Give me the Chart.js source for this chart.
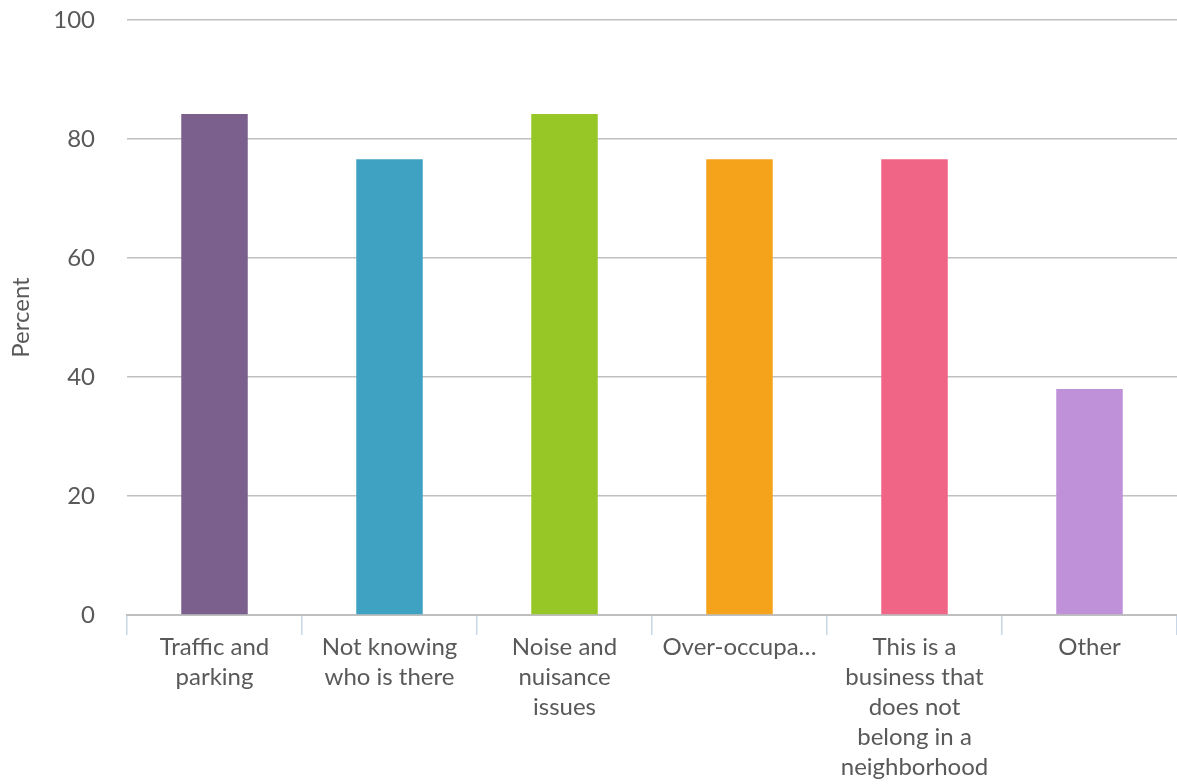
<!DOCTYPE html>
<html>
<head>
<meta charset="utf-8">
<script src="https://cdn.jsdelivr.net/npm/chart.js@4"></script>
<style>
  html, body { margin: 0; padding: 0; background: #fff; }
  #wrap { width: 1177px; height: 784px; position: relative; }
</style>
</head>
<body>
<div id="wrap"><canvas id="chart"></canvas></div>
<script>
const categories = [
    ['Traffic and', 'parking'],
    ['Not knowing', 'who is there'],
    ['Noise and', 'nuisance', 'issues'],
    ['Over-occupa…'],
    ['This is a', 'business that', 'does not', 'belong in a', 'neighborhood'],
    ['Other']
];
const percentValues = [84.2, 76.6, 84.2, 76.6, 76.6, 38.0];
const barColors = ['#7b608e', '#3fa2c2', '#96c726', '#f4a31b', '#f06586', '#bf91d9'];
const yTicks = [0, 20, 40, 60, 80, 100];

const textColor = '#595959';
const fontFamily = 'Lato, "Open Sans", sans-serif';

// the reference text is set a little loose
const letterSpacingPlugin = {
    id: 'letterSpacing',
    beforeInit(chart) { chart.ctx.letterSpacing = '1px'; }
};

new Chart(document.getElementById('chart'), {
    type: 'bar',
    data: {
        labels: categories,
        datasets: [{
            label: 'Percent',
            data: percentValues,
            backgroundColor: barColors,
            borderWidth: 0,
            categoryPercentage: 1,
            barPercentage: 0.38
        }]
    },
    options: {
        responsive: true,
        maintainAspectRatio: false,
        animation: false,
        layout: { padding: 0 },
        plugins: {
            legend: { display: false },
            tooltip: { enabled: false }
        },
        scales: {
            x: {
                offset: true,
                afterFit: (scale) => { scale.height = 169; },
                grid: {
                    offset: true,
                    drawOnChartArea: false,
                    drawTicks: true,
                    tickLength: 20,
                    color: '#c9d6e6',
                    lineWidth: 1.5
                },
                border: { display: true, color: '#bfbfbf', width: 2 },
                ticks: {
                    color: textColor,
                    font: { family: fontFamily, size: 24, lineHeight: 1.25 },
                    maxRotation: 0,
                    autoSkip: false,
                    padding: -3
                }
            },
            y: {
                min: 0,
                max: 100,
                afterFit: (scale) => {
                    scale.width = 127;
                    scale.paddingTop = 20;
                    scale.paddingBottom = 0;
                },
                afterBuildTicks: (axis) => { axis.ticks = yTicks.map(v => ({ value: v })); },
                grid: { color: '#c0c0c0', lineWidth: 1.5, drawTicks: false },
                border: { display: false },
                ticks: {
                    color: textColor,
                    font: { family: fontFamily, size: 24 },
                    padding: 32
                },
                title: {
                    display: true,
                    text: 'Percent',
                    color: textColor,
                    font: { family: fontFamily, size: 24 },
                    padding: { top: 7, bottom: 0 }
                }
            }
        }
    },
    plugins: [letterSpacingPlugin]
});
</script>
</body>
</html>
